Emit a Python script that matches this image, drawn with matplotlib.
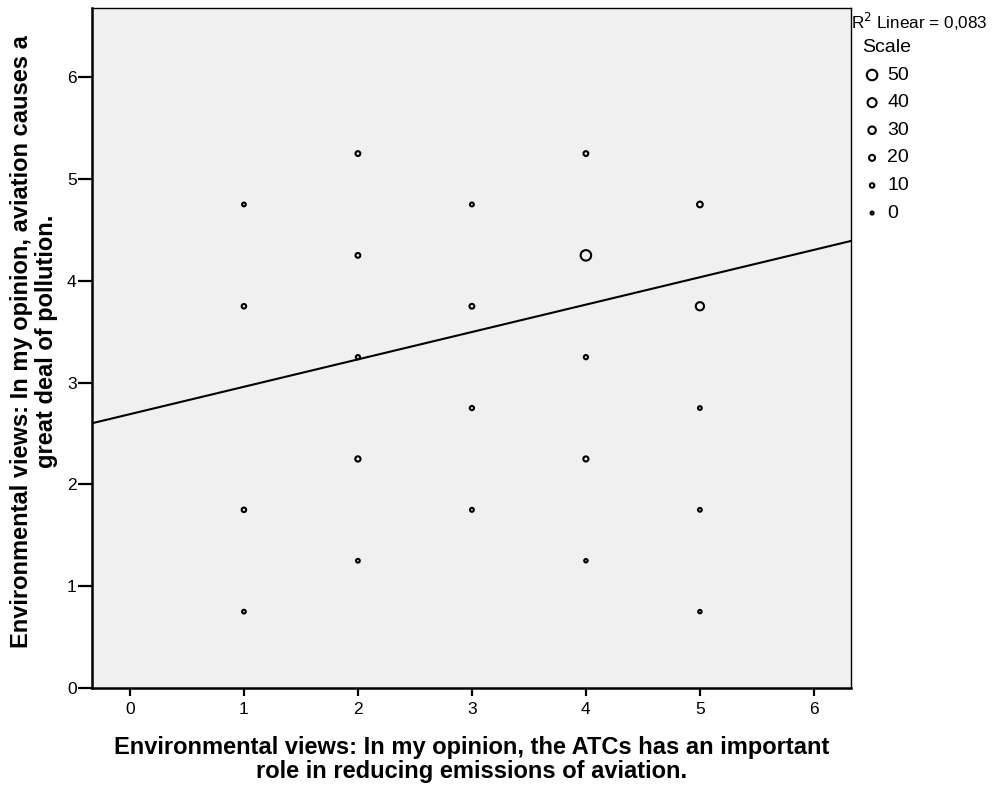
import numpy as np
import matplotlib.pyplot as plt

plt.rcParams['font.family'] = ['Liberation Sans', 'DejaVu Sans']

# binned counts: x category, y position, number of respondents
pt_x = [1, 1, 1, 1,
        2, 2, 2, 2, 2,
        3, 3, 3, 3,
        4, 4, 4, 4, 4,
        5, 5, 5, 5, 5]
pt_y = [4.75, 3.75, 1.75, 0.75,
        5.25, 4.25, 3.25, 2.25, 1.25,
        4.75, 3.75, 2.75, 1.75,
        5.25, 4.25, 3.25, 2.25, 1.25,
        4.75, 3.75, 2.75, 1.75, 0.75]
pt_n = [5, 10, 10, 5,
        12, 12, 8, 15, 5,
        6, 12, 8, 6,
        12, 50, 8, 14, 3,
        18, 35, 5, 5, 3]

# linear fit
fit_a = 2.69
fit_b = 0.269
r2_text = "0,083"

scale_vals = [50, 40, 30, 20, 10, 0]
ticks = [0, 1, 2, 3, 4, 5, 6]

xlabel = "Environmental views: In my opinion, the ATCs has an important\nrole in reducing emissions of aviation."
ylabel = "Environmental views: In my opinion, aviation causes a\ngreat deal of pollution."


def marker_area(n):
    # diameter in points grows with count
    d = (3.0 + 0.15 * np.asarray(n, dtype=float)) * 0.72
    return d ** 2


fig = plt.figure(figsize=(9.92, 7.85), dpi=100)
ax = fig.add_axes([0.0927, 0.1236, 0.7651, 0.8662])
ax.set_facecolor('#f0f0f0')

ax.scatter(pt_x, pt_y, s=marker_area(pt_n), facecolors='none',
           edgecolors='black', linewidths=1.5, zorder=3)

xl = (-0.333, 6.325)
xs = np.array(xl)
ax.plot(xs, fit_a + fit_b * xs, color='black', lw=1.5, zorder=2)

ax.set_xlim(*xl)
ax.set_ylim(0, 6.68)
ax.set_xticks(ticks)
ax.set_yticks(ticks)
ax.tick_params(axis='both', direction='out', length=6, width=1.6,
               labelsize=12.5, colors='black', pad=4)
ax.tick_params(axis='y', length=10, pad=1)
for sp in ax.spines.values():
    sp.set_linewidth(1.0)
ax.spines['bottom'].set_linewidth(1.8)
ax.spines['left'].set_linewidth(1.8)

# axis titles placed in figure coordinates
fig.text(0.475, 0.0325, xlabel, fontsize=17, fontweight='bold',
         ha='center', va='center', multialignment='center', linespacing=1.05)
fig.text(0.0345, 0.565, ylabel, fontsize=17, fontweight='bold',
         rotation=90, ha='center', va='center', multialignment='center',
         linespacing=1.1)

# legend block to the right of the plot
fig.text(0.858, 0.972, "R$^2$ Linear = " + r2_text, fontsize=12.3,
         ha='left', va='center')
fig.text(0.869, 0.940, "Scale", fontsize=14, ha='left', va='center')
lax = fig.add_axes([0.86, 0.711, 0.13, 0.211])
lax.set_axis_off()
lax.set_xlim(0, 1)
lax.set_ylim(-0.5, len(scale_vals) - 0.5)
ly = np.arange(len(scale_vals))[::-1]
lax.scatter(np.full(len(scale_vals), 0.147), ly, s=marker_area(scale_vals),
            facecolors='none', edgecolors='black', linewidths=1.5)
for yy, v in zip(ly, scale_vals):
    lax.text(0.265, yy, str(v), fontsize=14, ha='left', va='center')

fig.savefig('out.png', dpi=100)
